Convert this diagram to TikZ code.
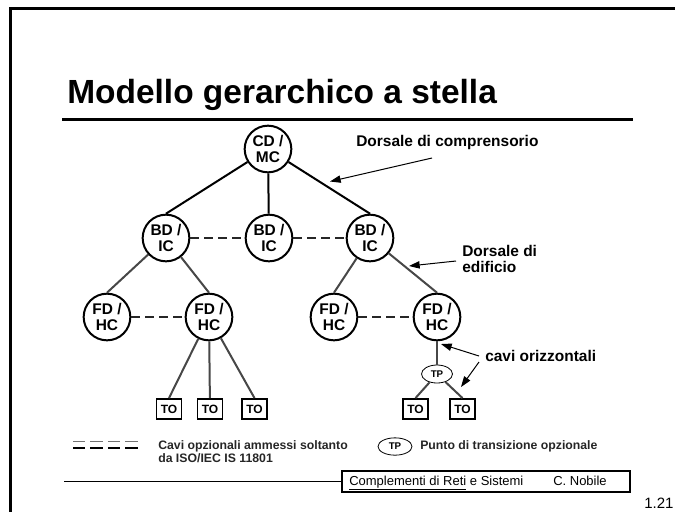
\documentclass[tikz,border=0pt]{standalone}
\usepackage{fontspec}
\setmainfont{Liberation Sans}
\usetikzlibrary{arrows.meta,shapes.geometric}
\begin{document}
\begin{tikzpicture}[x=0.75pt,y=-0.75pt,
  hub/.style={circle,draw,line width=1.5pt,minimum size=35pt,inner sep=0pt,align=center,
    font=\fontsize{11.6}{12.6}\selectfont\bfseries},
  tobox/.style={draw,line width=1.4pt,minimum width=18.75pt,minimum height=15pt,inner sep=0pt,
    font=\fontsize{9}{10}\selectfont\bfseries},
  tpell/.style={ellipse,draw,line width=0.6pt,minimum width=23.25pt,minimum height=13.5pt,inner sep=0pt,
    font=\fontsize{7.3}{8}\selectfont\bfseries},
  trunk/.style={line width=1.5pt},
  branch/.style={line width=1.5pt,draw=black!72},
  optl/.style={line width=1.5pt,draw=black!85,dash pattern=on 6.75pt off 3.75pt},
  lbl/.style={font=\fontsize{11.6}{13}\selectfont\bfseries,inner sep=0pt,anchor=base west},
  lgd/.style={font=\fontsize{9.2}{10}\selectfont\bfseries,inner sep=0pt,anchor=base west,text=black!85},
  foot/.style={font=\fontsize{9.75}{11}\selectfont,inner sep=0pt,anchor=base west},
  ptr/.style={line width=0.75pt,-{Triangle[length=8pt,width=5.5pt]}},
]
\useasboundingbox (0,0) rectangle (675,512);
% frame
\draw[line width=2.25pt] (9,8) -- (675,8);
\draw[line width=2.25pt] (10,8) -- (10,512);
% title
\node[inner sep=0pt,anchor=base west,font=\fontsize{25.1}{28}\selectfont\bfseries] (title) at (67,103) {Modello gerarchico a stella};
\draw[line width=2.25pt] (62,119.5) -- (633,119.5);
% nodes
\node[hub] (cd) at (268,149) {CD /\\MC};
\node[hub] (bd1) at (166,238) {BD /\\IC};
\node[hub] (bd2) at (269,238) {BD /\\IC};
\node[hub] (bd3) at (370,238) {BD /\\IC};
\node[hub] (fd1) at (107,317) {FD /\\HC};
\node[hub] (fd2) at (209,317) {FD /\\HC};
\node[hub] (fd3) at (334,317) {FD /\\HC};
\node[hub] (fd4) at (437,317) {FD /\\HC};
\node[tpell] (tp) at (437,374) {TP};
\node[tobox] (to1) at (169,409) {TO};
\node[tobox] (to2) at (210,409) {TO};
\node[tobox] (to3) at (254.5,409) {TO};
\node[tobox] (to4) at (415.5,409) {TO};
\node[tobox] (to5) at (462.5,409) {TO};
% edges
\draw[trunk] (cd) -- (bd1.north);
\draw[trunk] (cd) -- (bd2);
\draw[trunk] (cd) -- (bd3.north);
\draw[branch] (bd1) -- (fd1.north);
\draw[branch] (bd1) -- (fd2.north);
\draw[branch] (bd3) -- (fd3.north);
\draw[branch] (bd3) -- (fd4.north);
\draw[branch] (fd2) -- (to1.north);
\draw[branch] (fd2) -- (to2);
\draw[branch] (fd2) -- (to3.north);
\draw[branch] (fd4) -- (tp);
\draw[branch] (tp) -- (to4.north);
\draw[branch] (tp) -- (to5.north);
% optional cables
\draw[optl] (bd1) -- (bd2);
\draw[optl] (bd2) -- (bd3);
\draw[optl] (fd1) -- (fd2);
\draw[optl] (fd3) -- (fd4);
% labels and pointers
\node[lbl] (l1) at (356,146) {Dorsale di comprensorio};
\coordinate (p1s) at (432,158);
\coordinate (p1t) at (330,181.5);
\draw[ptr] (p1s) -- (p1t);
\node[lbl] (l2a) at (462,256) {Dorsale di};
\node[lbl] (l2b) at (462,272) {edificio};
\coordinate (p2s) at (456,261);
\coordinate (p2t) at (409,266);
\draw[ptr] (p2s) -- (p2t);
\node[lbl] (l3) at (485,361) {cavi orizzontali};
\coordinate (p3s) at (479,356);
\coordinate (p3t) at (441,344);
\draw[ptr] (p3s) -- (p3t);
\coordinate (p4s) at (479,362);
\coordinate (p4t) at (461,387);
\draw[ptr] (p4s) -- (p4t);
% legend
\coordinate (d1a) at (73,441.5);
\coordinate (d1b) at (139,441.5);
\coordinate (d2a) at (73,448);
\coordinate (d2b) at (139,448);
\draw[line width=1.1pt,draw=black!55,dash pattern=on 9.3pt off 3.75pt] (d1a) -- (d1b);
\draw[line width=1.5pt,dash pattern=on 9.3pt off 3.75pt] (d2a) -- (d2b);
\node[lgd] (lg1) at (158,449) {Cavi opzionali ammessi soltanto};
\node[lgd] (lg2) at (158,462.5) {da ISO/IEC IS 11801};
\node[tpell,minimum width=25.5pt,minimum height=13pt] (lgtp) at (395,446.5) {TP};
\node[lgd] (lg3) at (420,449) {Punto di transizione opzionale};
% footer
\node[draw,line width=0.9pt,minimum width=216pt,minimum height=15.75pt,inner sep=0pt] (fbox) at (486,481.5) {};
\draw[line width=0.9pt] (64,481.5) -- (fbox.west);
\node[foot] (f1) at (349,485) {\underline{Complementi di Reti} e Sistemi};
\node[foot] (f2) at (553,485) {C. Nobile};
\node[inner sep=0pt,anchor=base west,font=\fontsize{11.25}{12}\selectfont] (pg) at (644,508) {1.21};
\end{tikzpicture}
\end{document}
